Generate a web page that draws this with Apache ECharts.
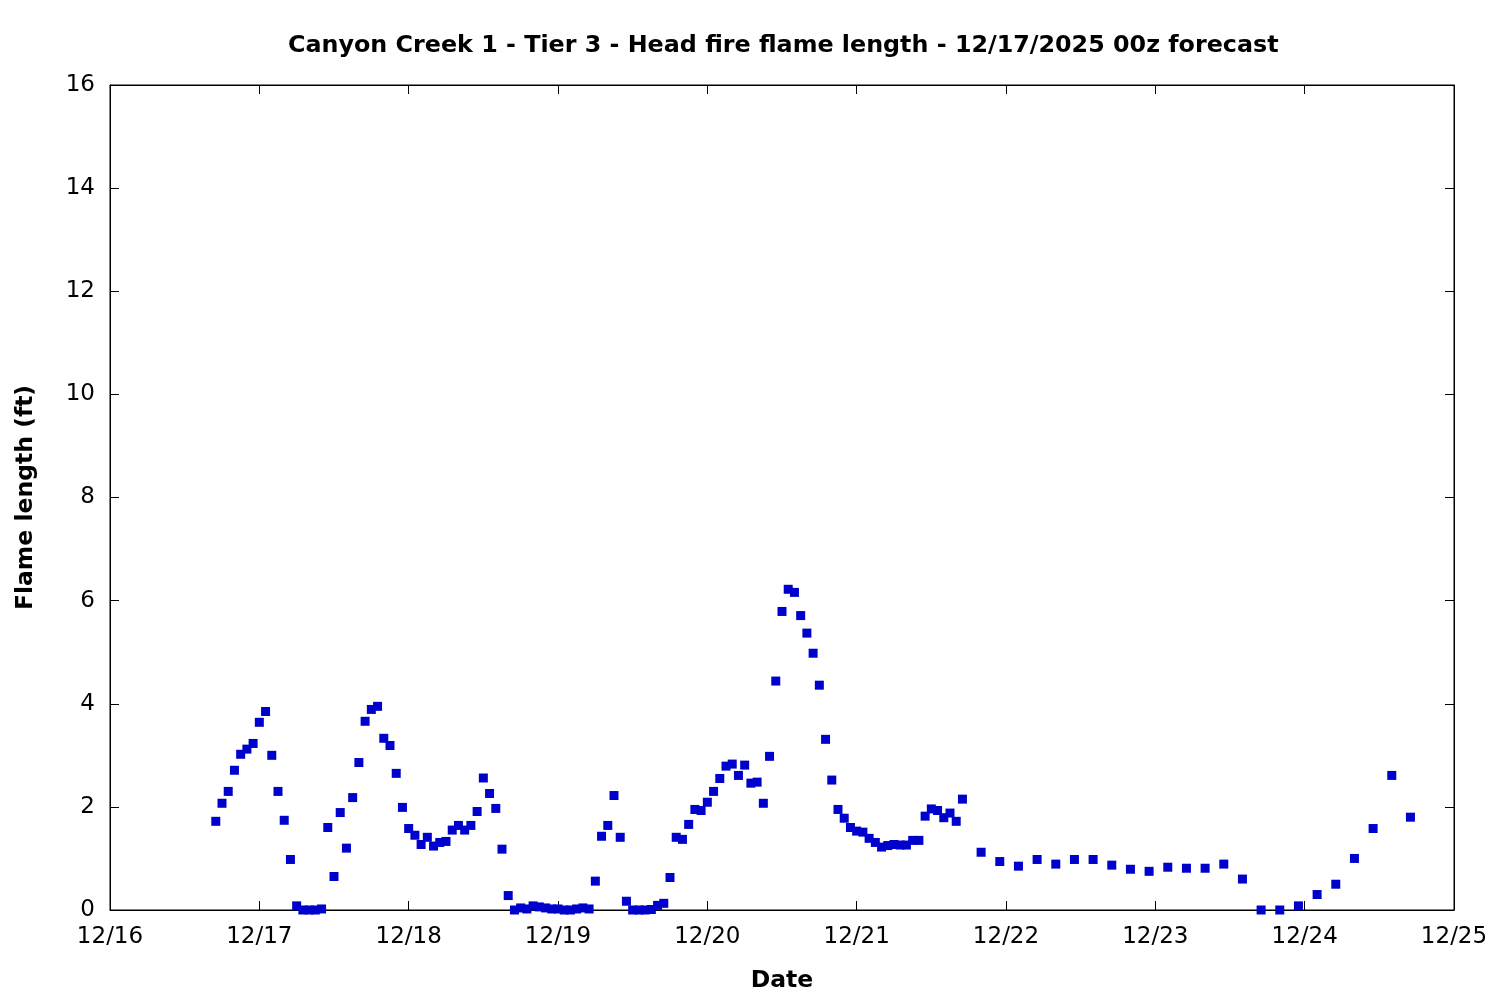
<!DOCTYPE html>
<html>
<head>
<meta charset="utf-8">
<script src="https://cdn.jsdelivr.net/npm/echarts@6/dist/echarts.min.js"></script>
<style>html,body{margin:0;padding:0;background:#fff}#c{width:1500px;height:1000px}</style>
</head>
<body>
<div id="c"></div>
<script>
// Hourly forecast, first value at 12/16 17z (hours since 12/16 00z)
var hourlyStart = 17;
var hourlyValues = [
  1.72, 2.07, 2.30, 2.71, 3.02, 3.12, 3.23, 3.64, 3.85, 3.00,
  2.30, 1.74, 0.98, 0.08, 0.00, 0.00, 0.00, 0.02, 1.60, 0.65,
  1.89, 1.20, 2.18, 2.86, 3.66, 3.89, 3.95, 3.33, 3.19, 2.65,
  1.99, 1.58, 1.45, 1.27, 1.41, 1.24, 1.31, 1.33, 1.55, 1.64,
  1.55, 1.64, 1.91, 2.56, 2.26, 1.97, 1.18, 0.28, 0.00, 0.04,
  0.02, 0.08, 0.06, 0.04, 0.02, 0.02, 0.00, 0.00, 0.02, 0.04,
  0.02, 0.56, 1.43, 1.64, 2.22, 1.41, 0.17, 0.00, 0.00, 0.00,
  0.01, 0.09, 0.13, 0.63, 1.41, 1.37, 1.66, 1.95, 1.93, 2.09,
  2.30, 2.55, 2.79, 2.83, 2.61, 2.81, 2.46, 2.48, 2.07, 2.98,
  4.44, 5.79, 6.22, 6.16, 5.71, 5.37, 4.98, 4.36, 3.31, 2.52,
  1.95, 1.78, 1.60, 1.53, 1.51, 1.39, 1.31, 1.22, 1.25, 1.27,
  1.26, 1.26, 1.35, 1.35, 1.82, 1.96, 1.93, 1.79, 1.88, 1.72,
  2.15
];
// 3-hourly forecast, first value at 12/21 20z
var threeHourlyStart = 140;
var threeHourlyValues = [
  1.12, 0.94, 0.85, 0.98, 0.89, 0.98, 0.98, 0.87, 0.79, 0.75,
  0.83, 0.81, 0.81, 0.89, 0.60, 0.00, 0.00, 0.08, 0.30, 0.50,
  1.00, 1.58, 2.61, 1.80
];
var xTickLabels = ['12/16','12/17','12/18','12/19','12/20','12/21','12/22','12/23','12/24','12/25'];
var yTicks = [0, 2, 4, 6, 8, 10, 12, 14, 16];
var titleText = 'Canyon Creek 1 - Tier 3 - Head fire flame length - 12/17/2025 00z forecast';

var points = [];
hourlyValues.forEach(function (v, i) { points.push([hourlyStart + i, v]); });
threeHourlyValues.forEach(function (v, i) { points.push([threeHourlyStart + 3 * i, v]); });

var FONT = 'DejaVu Sans';
var chart = echarts.init(document.getElementById('c'));
var tickStyle = { show: true, inside: true, length: 9, lineStyle: { color: '#000', width: 1 } };
chart.setOption({
  animation: false,
  backgroundColor: '#fff',
  title: {
    text: titleText, left: 283, top: 29,
    textStyle: { fontFamily: FONT, fontSize: 23.8, fontWeight: 'bold', color: '#000' }
  },
  grid: { left: 110, right: 46, top: 85, bottom: 90, show: true, borderColor: '#000', borderWidth: 1, backgroundColor: 'transparent' },
  xAxis: [{
    type: 'value', min: 0, max: 216, interval: 24, position: 'bottom',
    name: 'Date', nameLocation: 'middle', nameGap: 59,
    nameTextStyle: { fontFamily: FONT, fontSize: 23.5, fontWeight: 'bold', color: '#000' },
    axisLine: { show: true, onZero: false, lineStyle: { color: '#000', width: 1 } },
    axisTick: tickStyle,
    splitLine: { show: false },
    axisLabel: { fontFamily: FONT, fontSize: 23, color: '#000', margin: 16,
      formatter: function (v) { return xTickLabels[Math.round(v / 24)]; } }
  }, {
    type: 'value', min: 0, max: 216, interval: 24, position: 'top',
    axisLine: { show: true, onZero: false, lineStyle: { color: '#000', width: 1 } },
    axisTick: tickStyle, axisLabel: { show: false }, splitLine: { show: false }
  }],
  yAxis: [{
    type: 'value', min: yTicks[0], max: yTicks[yTicks.length - 1], interval: 2, position: 'left',
    name: 'Flame length (ft)', nameLocation: 'middle', nameGap: 72, nameRotate: 90,
    nameTextStyle: { fontFamily: FONT, fontSize: 23.5, fontWeight: 'bold', color: '#000' },
    axisLine: { show: true, onZero: false, lineStyle: { color: '#000', width: 1 } },
    axisTick: tickStyle, splitLine: { show: false },
    axisLabel: { fontFamily: FONT, fontSize: 23, color: '#000', margin: 15 }
  }, {
    type: 'value', min: yTicks[0], max: yTicks[yTicks.length - 1], interval: 2, position: 'right',
    axisLine: { show: true, onZero: false, lineStyle: { color: '#000', width: 1 } },
    axisTick: tickStyle, axisLabel: { show: false }, splitLine: { show: false }
  }],
  series: [{
    type: 'scatter', xAxisIndex: 0, yAxisIndex: 0,
    symbol: 'rect', symbolSize: 9,
    itemStyle: { color: '#0000cc', opacity: 1 },
    data: points
  }]
});
</script>
</body>
</html>
